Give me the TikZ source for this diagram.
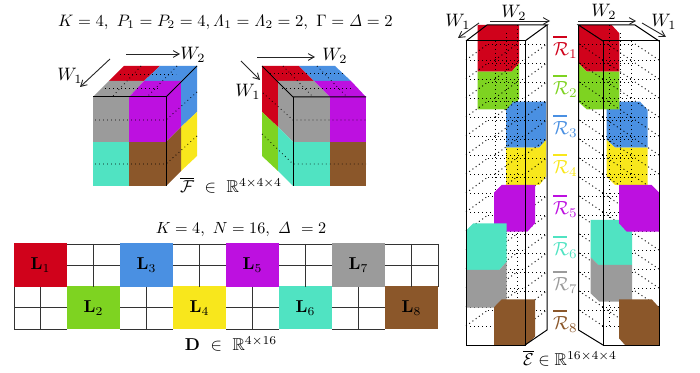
\documentclass[tikz,border=0pt]{standalone}
\usepackage{amsmath,amssymb}
\definecolor{cred}{HTML}{D0021B}
\definecolor{cgreen}{HTML}{7ED321}
\definecolor{cblue}{HTML}{4A90E2}
\definecolor{cyellow}{HTML}{F8E71C}
\definecolor{cmag}{HTML}{BD10E0}
\definecolor{cteal}{HTML}{50E3C2}
\definecolor{cgray}{HTML}{9B9B9B}
\definecolor{cbrown}{HTML}{8B572A}
\usetikzlibrary{arrows.meta}
\tikzset{
  x=0.5pt,y=-0.5pt,
  txt/.style={inner sep=0pt,outer sep=0pt,scale=0.86},
  edgeline/.style={black,line width=0.5pt},
  dots/.style={black,line width=0.4pt,dash pattern=on 0.4pt off 1.6pt},
  griddots/.style={black,line width=0.45pt,dash pattern=on 0.5pt off 1.5pt},
  gridline/.style={black!80,line width=0.45pt},
  arr/.style={black!85,line width=0.45pt,-{Straight Barb[length=3pt,width=3.4pt]}},
  lab/.style={inner sep=0pt,outer sep=0pt,scale=0.9},
  bar/.style={line width=0.9pt}
}
\begin{document}
\begin{tikzpicture}
\useasboundingbox (0,0) rectangle (700,373);
% --- titles
\node[txt,scale=0.965] (t1) at (225.5,22) {$K=4,\ P_1=P_2=4,\mathit{\Lambda}_1=\mathit{\Lambda}_2=2,\ \Gamma=\mathit{\Delta}=2$};
\node[txt,scale=0.94] (t2) at (241,230) {$K=4,\ N=16,\ \mathit{\Delta}\ =2$};
\node[txt] (t3) at (231,185) {$\overline{\mathcal{F}}\ \in\ \mathbb{R}^{4\times4\times4}$};
\node[txt] (t4) at (231,344) {$\mathbf{D}\ \in\ \mathbb{R}^{4\times16}$};
\node[txt] (t5) at (570,358) {$\overline{\mathcal{E}}\in\mathbb{R}^{16\times4\times4}$};
% --- left cube
\fill[cred] (124,66)--(160,66)--(144,81)--(109,81)--cycle;
\fill[cblue] (160,66)--(197,66)--(181,81)--(144,81)--cycle;
\fill[cgray] (109,81)--(144,81)--(129,97)--(93,97)--cycle;
\fill[cmag] (144,81)--(181,81)--(166,97)--(129,97)--cycle;
\fill[cmag] (166,97)--(181,81)--(181,127)--(166,142)--cycle;
\fill[cblue] (181,81)--(197,66)--(197,112)--(181,127)--cycle;
\fill[cyellow] (181,127)--(197,112)--(197,156)--(181,171)--cycle;
\fill[cbrown] (166,142)--(181,127)--(181,171)--(166,186)--cycle;
\fill[cgray] (93,97) rectangle (129,142);
\fill[cmag] (129,97) rectangle (166,142);
\fill[cteal] (93,142) rectangle (129,186);
\fill[cbrown] (129,142) rectangle (166,186);
\draw[dots] (95,120)--(166,120)--(197,92);
\draw[dots] (95,164)--(166,164)--(197,136);
\draw[dots] (120,74)--(176,74);
\draw[dots] (105,88)--(160,88);
\draw[dots] (141,66)--(112,97);
\draw[dots] (177,66)--(147,97);
\draw[edgeline] (93,97)--(166,97)--(166,186);
\draw[edgeline] (166,97)--(197,66);
\coordinate (a1) at (126,54); \coordinate (a2) at (180,54);
\coordinate (a3) at (110,59); \coordinate (a4) at (80,87);
\draw[arr] (a1)--(a2);
\draw[arr] (a3)--(a4);
\node[lab] (lw2) at (193,55) {$W_2$};
\node[lab] (lw1) at (70,76) {$W_1$};
% --- right cube
\fill[cred] (262,66)--(299,66)--(314,81)--(278,81)--cycle;
\fill[cblue] (299,66)--(335,66)--(351,81)--(314,81)--cycle;
\fill[cgray] (278,81)--(314,81)--(330,97)--(293,97)--cycle;
\fill[cmag] (314,81)--(351,81)--(366,97)--(330,97)--cycle;
\fill[cred] (262,66)--(278,81)--(278,127)--(262,112)--cycle;
\fill[cgreen] (262,112)--(278,127)--(278,171)--(262,156)--cycle;
\fill[cgray] (278,81)--(293,97)--(293,142)--(278,127)--cycle;
\fill[cteal] (278,127)--(293,142)--(293,186)--(278,171)--cycle;
\fill[cgray] (293,97) rectangle (330,142);
\fill[cmag] (330,97) rectangle (366,142);
\fill[cteal] (293,142) rectangle (330,186);
\fill[cbrown] (330,142) rectangle (366,186);
\draw[dots] (263,93)--(293,120)--(366,120);
\draw[dots] (262,134)--(293,164)--(366,164);
\draw[dots] (270,73)--(343,73);
\draw[dots] (282,88)--(353,88);
\draw[dots] (283,66)--(313,97);
\draw[dots] (317,66)--(347,97);
\draw[edgeline] (262,66)--(293,97)--(366,97);
\draw[edgeline] (293,97)--(293,186);
\coordinate (b1) at (257,57); \coordinate (b2) at (315,57);
\coordinate (b3) at (241,61); \coordinate (b4) at (260,80);
\draw[arr] (b1)--(b2);
\draw[arr] (b3)--(b4);
\node[lab] (rw2) at (335,56) {$W_2$};
\node[lab] (rw1) at (248,92) {$W_1$};
% --- grid D
\foreach \i/\c/\n in {0/cred/1,4/cblue/3,8/cmag/5,12/cgray/7}{
  \fill[\c] ({14+26.5*\i},243.5) rectangle ({14+26.5*(\i+2)},287);
  \node[txt] (L\n) at ({14+26.5*(\i+1)},265) {$\mathbf{L}_{\n}$};
}
\foreach \i/\c/\n in {2/cgreen/2,6/cyellow/4,10/cteal/6,14/cbrown/8}{
  \fill[\c] ({14+26.5*\i},286) rectangle ({14+26.5*(\i+2)},329);
  \node[txt] (L\n) at ({14+26.5*(\i+1)},308) {$\mathbf{L}_{\n}$};
}
\foreach \i in {2,6,10,14}{
  \draw[gridline] ({14+26.5*\i},265)--({14+26.5*(\i+2)},265);
  \draw[gridline] ({14+26.5*(\i+1)},244)--({14+26.5*(\i+1)},287);
  \draw[gridline] ({14+26.5*\i},244)--({14+26.5*(\i+2)},244);
}
\foreach \i in {0,4,8,12}{
  \draw[gridline] ({14+26.5*\i},307.5)--({14+26.5*(\i+2)},307.5);
  \draw[gridline] ({14+26.5*(\i+1)},287)--({14+26.5*(\i+1)},329);
  \draw[gridline] ({14+26.5*\i},329)--({14+26.5*(\i+2)},329);
}
\draw[gridline] (14,287)--(14,329);
\draw[gridline] (438,244)--(438,287);
% --- tall tensors: first blocks
\fill[cred] (477.7,25)--(519,25)--(519,63.3)--(511.7,71.7)--(477.7,71.7)--cycle;
\fill[cgreen] (477.7,71.7)--(511.7,71.7)--(519,63.3)--(519,99)--(511.7,109.3)--(477.7,109.3)--cycle;
\fill[cblue] (506,110)--(513.3,101.7)--(546,101.7)--(546,140)--(539.3,147.7)--(506,147.7)--cycle;
\fill[cyellow] (506,147.7)--(539.3,147.7)--(546,140)--(546,176.7)--(539.3,185)--(506,185)--cycle;
\fill[cblue] (606.7,101.7)--(640,101.7)--(647.7,110)--(647.7,147.7)--(615,147.7)--(606.7,140)--cycle;
\fill[cyellow] (606.7,140)--(615,147.7)--(647.7,147.7)--(647.7,185)--(615,185)--(606.7,176.7)--cycle;
\fill[cred] (578.3,25)--(611.7,25)--(619.3,33.3)--(619.3,71.7)--(586.7,71.7)--(578.3,63.3)--cycle;
\fill[cgreen] (578.3,63.3)--(586.7,71.7)--(619.3,71.7)--(619.3,109.3)--(586.7,109.3)--(578.3,101.7)--cycle;
% dotted lattice
\foreach \k in {1,...,15}{
  \pgfmathsetmacro{\yy}{41+19*\k}
  \foreach \d in {0,22}{
    \pgfmathsetmacro{\dy}{\d*16/22}
    \draw[griddots] ({466+\d},{\yy-\dy})--({525+\d},{\yy-\dy});
    \draw[griddots] ({603-\d-1},{\yy-\dy})--({659-\d-1},{\yy-\dy});
  }
  \draw[griddots] (525,\yy)--(547,{\yy-16});
  \draw[griddots] (495,\yy)--(517,{\yy-16});
  \draw[griddots] (466,\yy)--(488,{\yy-16});
  \draw[griddots] (603,\yy)--(579,{\yy-16});
  \draw[griddots] (631,\yy)--(607,{\yy-16});
  \draw[griddots] (659,\yy)--(635,{\yy-16});
}
\foreach \d in {0,11,22}{
  \pgfmathsetmacro{\dy}{\d*16/22}
  \draw[griddots] ({495.5+\d},{41-\dy})--({495.5+\d},{345-\dy});
  \draw[griddots] ({631-\d},{41-\dy})--({631-\d},{345-\dy});
}
% top blocks
\fill[cmag] (494,192.7)--(501.7,185)--(535,185)--(535,223.3)--(527.3,231.7)--(494,231.7)--cycle;
\fill[cteal] (466,230.7)--(473.3,223.3)--(506.7,223.3)--(506.7,261.7)--(499.3,270)--(466,270)--cycle;
\fill[cgray] (466,270)--(499.3,270)--(506.7,261.7)--(506.7,300)--(499.3,307.7)--(466,307.7)--cycle;
\fill[cbrown] (494,307.3)--(501.7,299.3)--(535,299.3)--(535,336.7)--(526,345)--(494,345)--cycle;
\fill[cteal] (590.7,220)--(623,220)--(632,231.7)--(632,265)--(598.3,265)--(590.7,257.3)--cycle;
\fill[cgray] (590.7,257.3)--(598.3,265)--(632,265)--(632,301.7)--(599.3,301.7)--(590.7,293.3)--cycle;
\fill[cmag] (619,185)--(651.7,185)--(659.3,192.7)--(659.3,231.7)--(626.7,231.7)--(619,223.3)--cycle;
\fill[cbrown] (619,299.3)--(651.7,299.3)--(659.3,307.7)--(659.3,345)--(625,345)--(619,338.3)--cycle;
% outlines
\draw[edgeline] (466,345)--(466,41)--(525,41)--(525,345)--cycle;
\draw[edgeline] (466,41)--(487,25)--(547,25)--(525,41);
\draw[edgeline] (547,25)--(547,330)--(525,345);
\draw[edgeline] (659,345)--(659,41)--(603,41)--(603,345)--cycle;
\draw[edgeline] (603,41)--(578.5,25)--(635,25)--(659,41);
\draw[edgeline] (578.5,25)--(578.5,330)--(603,345);
% arrows and labels
\coordinate (c1) at (490,21); \coordinate (c2) at (550,21);
\coordinate (c3) at (479,23); \coordinate (c4) at (458,38);
\coordinate (c5) at (578,21); \coordinate (c6) at (636,21);
\coordinate (c7) at (642,23); \coordinate (c8) at (666,37);
\draw[arr] (c1)--(c2);
\draw[arr] (c3)--(c4);
\draw[arr] (c5)--(c6);
\draw[arr] (c7)--(c8);
\node[lab] (tw2a) at (514,13) {$W_2$};
\node[lab] (tw1a) at (458,22) {$W_1$};
\node[lab] (tw2b) at (604,12) {$W_2$};
\node[lab] (tw1b) at (664,22) {$W_1$};
% R legend
\foreach \n/\c/\y in {1/cred/36.7,2/cgreen/76,3/cblue/115.7,4/cyellow/154.7,5/cmag/195.7,6/cteal/236.7,7/cgray/271.7,8/cbrown/310.7}{
  \coordinate (ba\n) at (553,\y);
  \coordinate (bb\n) at (567,\y);
  \draw[bar,\c] (ba\n)--(bb\n);
  \node[inner sep=0pt,outer sep=0pt,scale=0.95,\c,anchor=north west] (R\n) at (553,{\y+6}) {$\mathcal{R}_{\n}$};
}
\end{tikzpicture}
\end{document}
